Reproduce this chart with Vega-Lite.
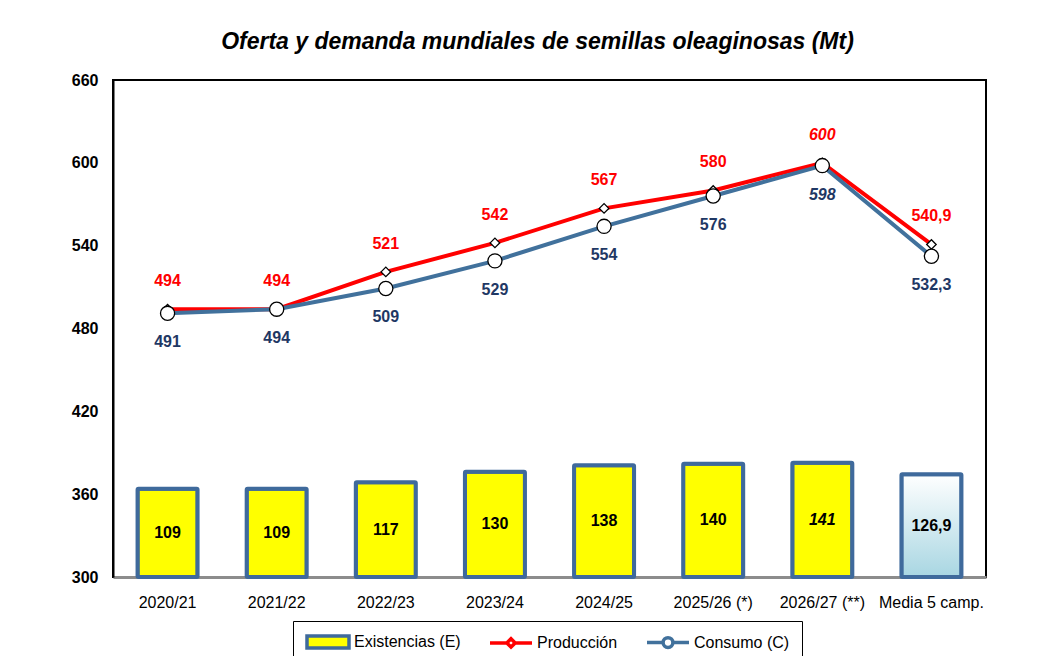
{
  "$schema": "https://vega.github.io/schema/vega-lite/v6.json",
  "width": 873,
  "height": 497,
  "autosize": {"type": "none"},
  "padding": {"left": 113, "top": 80, "right": 58, "bottom": 79},
  "background": "white",
  "title": {
    "text": "Oferta y demanda mundiales de semillas oleaginosas (Mt)",
    "font": "Liberation Sans",
    "fontSize": 23,
    "fontStyle": "italic",
    "fontWeight": "bold",
    "color": "black",
    "anchor": "middle",
    "offset": 18,
    "dx": -12
  },
  "config": {
    "view": {"stroke": "black", "strokeWidth": 2},
    "font": "Liberation Sans",
    "axis": {"grid": false}
  },
  "data": {
    "values": [
      {"camp": "2020/21", "serie": "Existencias (E)", "valor": 109, "etiqueta": "109"},
      {"camp": "2021/22", "serie": "Existencias (E)", "valor": 109, "etiqueta": "109"},
      {"camp": "2022/23", "serie": "Existencias (E)", "valor": 117, "etiqueta": "117"},
      {"camp": "2023/24", "serie": "Existencias (E)", "valor": 130, "etiqueta": "130"},
      {"camp": "2024/25", "serie": "Existencias (E)", "valor": 138, "etiqueta": "138"},
      {"camp": "2025/26 (*)", "serie": "Existencias (E)", "valor": 140, "etiqueta": "140"},
      {"camp": "2026/27 (**)", "serie": "Existencias (E)", "valor": 141, "etiqueta": "141"},
      {"camp": "Media 5 camp.", "serie": "Existencias (E)", "valor": 126.9, "etiqueta": "126,9"},
      {"camp": "2020/21", "serie": "Producción", "valor": 494, "etiqueta": "494"},
      {"camp": "2021/22", "serie": "Producción", "valor": 494, "etiqueta": "494"},
      {"camp": "2022/23", "serie": "Producción", "valor": 521, "etiqueta": "521"},
      {"camp": "2023/24", "serie": "Producción", "valor": 542, "etiqueta": "542"},
      {"camp": "2024/25", "serie": "Producción", "valor": 567, "etiqueta": "567"},
      {"camp": "2025/26 (*)", "serie": "Producción", "valor": 580, "etiqueta": "580"},
      {"camp": "2026/27 (**)", "serie": "Producción", "valor": 600, "etiqueta": "600"},
      {"camp": "Media 5 camp.", "serie": "Producción", "valor": 540.9, "etiqueta": "540,9"},
      {"camp": "2020/21", "serie": "Consumo (C)", "valor": 491, "etiqueta": "491"},
      {"camp": "2021/22", "serie": "Consumo (C)", "valor": 494, "etiqueta": "494"},
      {"camp": "2022/23", "serie": "Consumo (C)", "valor": 509, "etiqueta": "509"},
      {"camp": "2023/24", "serie": "Consumo (C)", "valor": 529, "etiqueta": "529"},
      {"camp": "2024/25", "serie": "Consumo (C)", "valor": 554, "etiqueta": "554"},
      {"camp": "2025/26 (*)", "serie": "Consumo (C)", "valor": 576, "etiqueta": "576"},
      {"camp": "2026/27 (**)", "serie": "Consumo (C)", "valor": 598, "etiqueta": "598"},
      {"camp": "Media 5 camp.", "serie": "Consumo (C)", "valor": 532.3, "etiqueta": "532,3"}
    ]
  },
  "encoding": {
    "x": {
      "field": "camp",
      "type": "nominal",
      "sort": ["2020/21", "2021/22", "2022/23", "2023/24", "2024/25", "2025/26 (*)", "2026/27 (**)", "Media 5 camp."],
      "scale": {"paddingInner": 0, "paddingOuter": 0},
      "axis": {
        "title": null,
        "labelFont": "Liberation Sans",
        "labelFontSize": 16,
        "labelColor": "black",
        "labelAngle": 0,
        "labelOverlap": false,
        "ticks": false,
        "labelPadding": 17,
        "domainColor": "#8C8C8C",
        "domainWidth": 3
      }
    }
  },
  "layer": [
    {
      "transform": [{"filter": "datum.serie === 'Existencias (E)'"}],
      "encoding": {
        "y": {"field": "valor", "type": "quantitative", "scale": {"domain": [0, 614], "nice": false, "zero": true}, "axis": null}
      },
      "layer": [
        {
          "transform": [{"filter": "datum.camp !== 'Media 5 camp.'"}],
          "mark": {"type": "bar", "fill": "#FFFF00", "stroke": "#3F6A9C", "strokeWidth": 4, "width": {"band": 0.55}, "cornerRadius": 1}
        },
        {
          "transform": [{"filter": "datum.camp === 'Media 5 camp.'"}],
          "mark": {
            "type": "bar",
            "fill": {"gradient": "linear", "x1": 0, "y1": 0, "x2": 0, "y2": 1, "stops": [{"offset": 0, "color": "#FFFFFF"}, {"offset": 1, "color": "#A8D6E2"}]},
            "stroke": "#3F6A9C",
            "strokeWidth": 4,
            "width": {"band": 0.55},
            "cornerRadius": 1
          }
        }
      ]
    },
    {
      "transform": [{"filter": "datum.serie === 'Existencias (E)'"}],
      "encoding": {
        "y": {"field": "valor", "type": "quantitative", "scale": {"domain": [0, 1228], "nice": false, "zero": true}, "axis": null},
        "text": {"field": "etiqueta"}
      },
      "layer": [
        {
          "transform": [{"filter": "datum.camp !== '2026/27 (**)'"}],
          "mark": {"type": "text", "font": "Liberation Sans", "fontSize": 16, "fontWeight": "bold", "color": "black", "baseline": "middle"}
        },
        {
          "transform": [{"filter": "datum.camp === '2026/27 (**)'"}],
          "mark": {"type": "text", "font": "Liberation Sans", "fontSize": 16, "fontWeight": "bold", "fontStyle": "italic", "color": "black", "baseline": "middle"}
        }
      ]
    },
    {
      "encoding": {
        "y": {
          "field": "valor",
          "type": "quantitative",
          "scale": {"domain": [300, 660], "nice": false, "zero": false},
          "axis": {
            "title": null,
            "values": [300, 360, 420, 480, 540, 600, 660],
            "labelFont": "Liberation Sans",
            "labelFontSize": 16,
            "labelFontWeight": "bold",
            "labelColor": "black",
            "ticks": false,
            "labelPadding": 15,
            "domainColor": "black",
            "domainWidth": 2
          }
        }
      },
      "layer": [
        {
          "transform": [{"filter": "datum.serie !== 'Existencias (E)'"}],
          "mark": {"type": "line", "strokeWidth": 4},
          "encoding": {
            "color": {
              "field": "serie",
              "type": "nominal",
              "scale": {"domain": ["Existencias (E)", "Producción", "Consumo (C)"], "range": ["#3F6A9C", "#FF0000", "#41719C"]},
              "legend": {
                "title": null,
                "orient": "none",
                "legendX": 180,
                "legendY": 541,
                "direction": "horizontal",
                "columns": 3,
                "labelFont": "Liberation Sans",
                "labelFontSize": 16,
                "labelColor": "black",
                "labelOffset": 17,
                "symbolSize": 196,
                "symbolOffset": 14,
                "columnPadding": 22,
                "padding": 12,
                "strokeColor": "black",
                "fillColor": "white",
                "encode": {
                  "symbols": {
                    "update": {
                      "shape": {"signal": "datum.value === 'Existencias (E)' ? 'M-3,-0.85H3V0.85H-3Z' : (datum.value === 'Producción' ? 'M-3,0H-0.6M0.6,0H3M0,-0.6L0.6,0L0,0.6L-0.6,0Z' : 'M-3,0H-0.7M0.7,0H3M0.7,0A0.7,0.7,0,1,1,-0.7,0A0.7,0.7,0,1,1,0.7,0Z')"},
                      "fill": {"signal": "datum.value === 'Existencias (E)' ? '#FFFF00' : '#FFFFFF'"},
                      "fillOpacity": {"value": 1},
                      "strokeWidth": {"value": 3.5},
                      "opacity": {"value": 1}
                    }
                  }
                }
              }
            }
          }
        },
        {
          "transform": [{"filter": "datum.serie === 'Producción'"}],
          "mark": {"type": "point", "shape": "diamond", "filled": true, "fill": "white", "stroke": "black", "strokeWidth": 1.3, "size": 90, "opacity": 1}
        },
        {
          "transform": [{"filter": "datum.serie === 'Consumo (C)'"}],
          "mark": {"type": "point", "shape": "circle", "filled": true, "fill": "white", "stroke": "black", "strokeWidth": 1.3, "size": 200, "opacity": 1}
        },
        {
          "transform": [{"filter": "datum.serie === 'Producción' && datum.camp !== '2026/27 (**)'"}],
          "mark": {"type": "text", "font": "Liberation Sans", "fontSize": 16, "fontWeight": "bold", "color": "#FF0000", "baseline": "middle", "dy": -28},
          "encoding": {"text": {"field": "etiqueta"}}
        },
        {
          "transform": [{"filter": "datum.serie === 'Producción' && datum.camp === '2026/27 (**)'"}],
          "mark": {"type": "text", "font": "Liberation Sans", "fontSize": 16, "fontWeight": "bold", "fontStyle": "italic", "color": "#FF0000", "baseline": "middle", "dy": -28},
          "encoding": {"text": {"field": "etiqueta"}}
        },
        {
          "transform": [{"filter": "datum.serie === 'Consumo (C)' && datum.camp !== '2026/27 (**)'"}],
          "mark": {"type": "text", "font": "Liberation Sans", "fontSize": 16, "fontWeight": "bold", "color": "#1F3864", "baseline": "middle", "dy": 29},
          "encoding": {"text": {"field": "etiqueta"}}
        },
        {
          "transform": [{"filter": "datum.serie === 'Consumo (C)' && datum.camp === '2026/27 (**)'"}],
          "mark": {"type": "text", "font": "Liberation Sans", "fontSize": 16, "fontWeight": "bold", "fontStyle": "italic", "color": "#1F3864", "baseline": "middle", "dy": 29},
          "encoding": {"text": {"field": "etiqueta"}}
        }
      ]
    }
  ],
  "resolve": {"scale": {"y": "independent"}}
}
